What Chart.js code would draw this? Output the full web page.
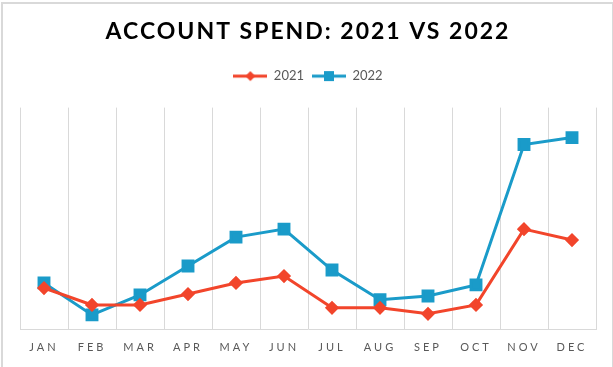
<!DOCTYPE html>
<html>
<head>
<meta charset="utf-8">
<script src="https://cdn.jsdelivr.net/npm/chart.js@4/dist/chart.umd.min.js"></script>
<style>
  body { margin: 0; background: #fff; }
  #wrap {
    position: absolute; left: 1px; top: 2px;
    width: 609px; height: 365px;
    border: 2px solid #d9d9d9; border-bottom: none;
  }
</style>
</head>
<body>
<div id="wrap"><canvas id="spend-chart"></canvas></div>
<script>
// Data (relative spend, no axis shown)
const months = ['JAN', 'FEB', 'MAR', 'APR', 'MAY', 'JUN', 'JUL', 'AUG', 'SEP', 'OCT', 'NOV', 'DEC'];
const spend2021 = [18.8, 11.2, 11.2, 16.1, 21.1, 24.2, 9.9, 9.9, 7.2, 11.2, 45.3, 40.4];
const spend2022 = [21.1, 6.7, 15.7, 28.7, 41.7, 45.3, 26.9, 13.5, 15.2, 20.2, 83.4, 86.5];

const red = '#f2452b';
const blue = '#1a9bc9';

// legend icon: a short line with the marker in the middle
function legendIcon(color, style) {
  const c = document.createElement('canvas');
  c.width = 34; c.height = 12;
  const g = c.getContext('2d');
  g.strokeStyle = color;
  g.fillStyle = color;
  g.lineWidth = 3;
  g.beginPath(); g.moveTo(0, 6); g.lineTo(34, 6); g.stroke();
  if (style === 'diamond') {
    g.beginPath(); g.moveTo(17, 1); g.lineTo(22, 6); g.lineTo(17, 11); g.lineTo(12, 6); g.closePath(); g.fill();
  } else {
    g.fillRect(12, 1, 10, 10);
  }
  return c;
}
const icons = [legendIcon(red, 'diamond'), legendIcon(blue, 'square')];

// letter spacing for the title and the month labels
function withSpacing(ctx, ls, fn) {
  ctx.save();
  ctx.letterSpacing = ls;
  fn();
  ctx.restore();
}
const tweaks = {
  id: 'tweaks',
  beforeLayout(chart) {
    // extra room under the legend
    const lg = chart.legend;
    if (lg && !lg._padded) {
      const fit = lg.fit.bind(lg);
      lg.fit = () => { fit(); lg.height += 15; };
      lg._padded = true;
    }
  },
  beforeDraw(chart) {
    const title = chart.titleBlock;
    if (title && !title._spaced) {
      const draw = title.draw.bind(title);
      title.draw = area => withSpacing(chart.ctx, '2px', () => draw(area));
      title._spaced = true;
    }
    const x = chart.scales.x;
    if (x && !x._spaced) {
      const drawLabels = x.drawLabels.bind(x);
      x.drawLabels = area => withSpacing(chart.ctx, '3px', () => drawLabels(area));
      x._spaced = true;
    }
  }
};

const ctx = document.getElementById('spend-chart').getContext('2d');
const chart = new Chart(ctx, {
  type: 'line',
  data: {
    labels: months,
    datasets: [
      {
        label: '2021',
        data: spend2021,
        borderColor: red,
        backgroundColor: red,
        borderWidth: 3,
        pointStyle: 'rectRot',
        pointRadius: 5,
        pointHoverRadius: 5,
        fill: false,
      },
      {
        label: '2022',
        data: spend2022,
        borderColor: blue,
        backgroundColor: blue,
        borderWidth: 3,
        pointStyle: 'rect',
        pointRadius: 7,
        pointHoverRadius: 7,
        fill: false,
      },
    ],
  },
  options: {
    responsive: true,
    maintainAspectRatio: false,
    animation: false,
    layout: { padding: { left: 17, right: 16, top: 0, bottom: 4 } },
    plugins: {
      title: {
        display: true,
        text: 'ACCOUNT SPEND: 2021 VS 2022',
        color: '#000',
        font: { family: 'Lato', size: 23, weight: 'bold' },
        padding: { top: 14, bottom: 16 },
      },
      legend: {
        position: 'top',
        labels: {
          color: '#595959',
          font: { family: 'Lato', size: 13 },
          usePointStyle: true,
          pointStyleWidth: 34,
          boxHeight: 12,
          padding: 8,
          generateLabels(chart) {
            return chart.data.datasets.map((ds, i) => ({
              text: ds.label,
              fillStyle: ds.borderColor,
              strokeStyle: ds.borderColor,
              fontColor: '#595959',
              pointStyle: icons[i],
              lineWidth: 0,
              datasetIndex: i,
            }));
          },
        },
      },
      tooltip: { enabled: false },
    },
    scales: {
      x: {
        offset: true,
        grid: { offset: true, color: '#d9d9d9', lineWidth: 1, drawTicks: false },
        border: { color: '#d9d9d9', width: 1 },
        ticks: { color: '#595959', font: { family: 'Lato', size: 11 }, padding: 11, maxRotation: 0 },
      },
      y: {
        display: false,
        min: 0,
        max: 100,
      },
    },
  },
  plugins: [tweaks],
});
</script>
</body>
</html>
